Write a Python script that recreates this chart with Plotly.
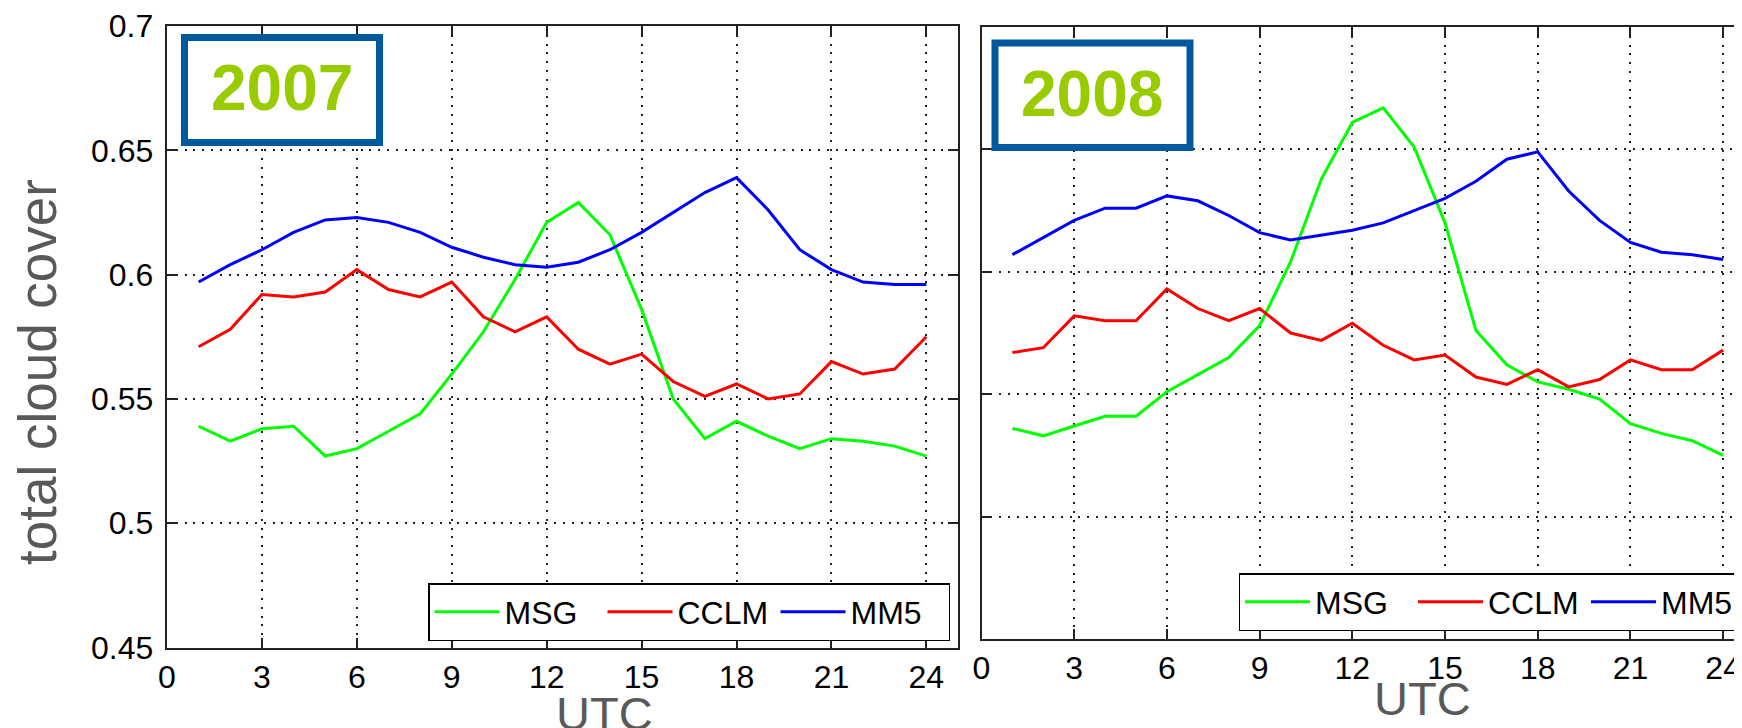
import plotly.graph_objects as go

# ---------------- data ----------------
hours = list(range(1, 25))

msg_2007 = [0.539, 0.533, 0.538, 0.539, 0.527, 0.530, 0.537, 0.544, 0.560, 0.577,
            0.598, 0.621, 0.629, 0.616, 0.586, 0.550, 0.534, 0.541, 0.535, 0.530,
            0.534, 0.533, 0.531, 0.527]
cclm_2007 = [0.571, 0.578, 0.592, 0.591, 0.593, 0.602, 0.594, 0.591, 0.597, 0.583,
             0.577, 0.583, 0.570, 0.564, 0.568, 0.557, 0.551, 0.556, 0.550, 0.552,
             0.565, 0.560, 0.562, 0.575]
mm5_2007 = [0.597, 0.604, 0.610, 0.617, 0.622, 0.623, 0.621, 0.617, 0.611, 0.607,
            0.604, 0.603, 0.605, 0.610, 0.617, 0.625, 0.633, 0.639, 0.626, 0.610,
            0.602, 0.597, 0.596, 0.596]

msg_2008 = [0.536, 0.533, 0.537, 0.541, 0.541, 0.551, 0.558, 0.565, 0.578, 0.604,
            0.638, 0.661, 0.667, 0.651, 0.620, 0.576, 0.562, 0.555, 0.552, 0.548,
            0.538, 0.534, 0.531, 0.525]
cclm_2008 = [0.567, 0.569, 0.582, 0.580, 0.580, 0.593, 0.585, 0.580, 0.585, 0.575,
             0.572, 0.579, 0.570, 0.564, 0.566, 0.557, 0.554, 0.560, 0.553, 0.556,
             0.564, 0.560, 0.560, 0.568]
mm5_2008 = [0.607, 0.614, 0.621, 0.626, 0.626, 0.631, 0.629, 0.623, 0.616, 0.613,
            0.615, 0.617, 0.620, 0.625, 0.630, 0.637, 0.646, 0.649, 0.633, 0.621,
            0.612, 0.608, 0.607, 0.605]

series_names = ["MSG", "CCLM", "MM5"]
series_colors = ["#00ff00", "#ff0000", "#0000ff"]

x_tick_vals = [0, 3, 6, 9, 12, 15, 18, 21, 24]
x_tick_labels = ["0", "3", "6", "9", "12", "15", "18", "21", "24"]
y_tick_vals = [0.45, 0.5, 0.55, 0.6, 0.65, 0.7]
y_tick_labels = ["0.45", "0.5", "0.55", "0.6", "0.65", "0.7"]

year_labels = ["2007", "2008"]
y_title = "total cloud cover"
x_title = "UTC"

# ---------------- layout helpers ----------------
# the page body adds an 8px margin, so the figure starts at (8, 8) of the window
OFF = 8
W, H = 1742 - OFF, 728 - OFF
def px(v):
    return (v - OFF) / W
def py(v):
    return 1 - (v - OFF) / H

FONT = "Liberation Sans, Arial, Helvetica, sans-serif"

fig = go.Figure()

panels = [
    (msg_2007, cclm_2007, mm5_2007, "x", "y", "legend"),
    (msg_2008, cclm_2008, mm5_2008, "x2", "y2", "legend2"),
]
for msg, cclm, mm5, xa, ya, lg in panels:
    for name, vals, col in zip(series_names, [msg, cclm, mm5], series_colors):
        fig.add_trace(go.Scatter(
            x=hours, y=vals, mode="lines", name=name,
            line=dict(color=col, width=3),
            xaxis=xa, yaxis=ya, legend=lg, showlegend=True,
        ))

axis_common = dict(
    showline=True, linecolor="#222222", linewidth=2,
    ticks="inside", ticklen=10, tickwidth=1.8, tickcolor="#222222",
    showgrid=True, gridcolor="#222222", gridwidth=2, griddash="2px,6.8px",
    zeroline=False, ticklabeloverflow="allow",
    tickfont=dict(family=FONT, size=32, color="black"),
)

legend_common = dict(
    orientation="h", xanchor="left", yanchor="top",
    bgcolor="white", bordercolor="black", borderwidth=1.5,
    font=dict(family=FONT, size=32, color="black"),
    itemwidth=65, tracegroupgap=0,
    entrywidth=93, entrywidthmode="pixels",
)

# y tick texts get a small trailing gap (six-per-em space) from the axis line
y_tick_text = [lab + "\u2006" for lab in y_tick_labels]

fig.update_layout(
    width=W, height=H,
    margin=dict(l=0, r=0, t=0, b=0, autoexpand=False),
    paper_bgcolor="white", plot_bgcolor="white",
    font=dict(family=FONT, color="black"),
    xaxis=dict(domain=[px(167), px(958)], range=[0, 25],
               tickvals=x_tick_vals, ticktext=x_tick_labels,
               mirror="ticks", anchor="y", **axis_common),
    yaxis=dict(domain=[py(647.5), py(26)], range=[0.45, 0.7],
               tickvals=y_tick_vals, ticktext=y_tick_text,
               mirror="ticks", anchor="x", **axis_common),
    xaxis2=dict(domain=[px(981.5), 1.0], range=[0, 24.61],
                tickvals=x_tick_vals, ticktext=x_tick_labels,
                mirror="ticks", anchor="y2", **axis_common),
    yaxis2=dict(domain=[py(639), py(27)], range=[0.45, 0.7],
                tickvals=y_tick_vals, ticktext=y_tick_labels,
                showticklabels=False, mirror=False, anchor="x2", **axis_common),
    legend=dict(x=px(428), y=py(583), **legend_common),
    legend2=dict(x=px(1238.5), y=py(573), **legend_common),
    showlegend=True,
)

# year boxes
boxes = [(184.5, 37.5, 379.5, 142.5), (995, 43, 1190, 147.5)]
for (x0, y0, x1, y1) in boxes:
    fig.add_shape(type="rect", xref="paper", yref="paper",
                  x0=px(x0), x1=px(x1), y0=py(y1), y1=py(y0),
                  line=dict(color="#00599c", width=7), fillcolor="white", layer="above")

year_pos = [(282, 88), (1092, 94)]
for lab, (cx, cy) in zip(year_labels, year_pos):
    fig.add_annotation(text="<b>" + lab + "</b>", xref="paper", yref="paper",
                       x=px(cx), y=py(cy), xanchor="center", yanchor="middle",
                       showarrow=False, font=dict(family=FONT, size=64, color="#99cc00"))

# axis titles
fig.add_annotation(text=y_title, xref="paper", yref="paper", x=px(37), y=py(372),
                   xanchor="center", yanchor="middle", textangle=-90, showarrow=False,
                   font=dict(family=FONT, size=53, color="#595959"))
for cx, top in [(604, 685), (1422, 670)]:
    fig.add_annotation(text=x_title, xref="paper", yref="paper", x=px(cx), y=py(top),
                       xanchor="center", yanchor="top", showarrow=False,
                       font=dict(family=FONT, size=47, color="#595959"))

fig.write_html("out.html")
